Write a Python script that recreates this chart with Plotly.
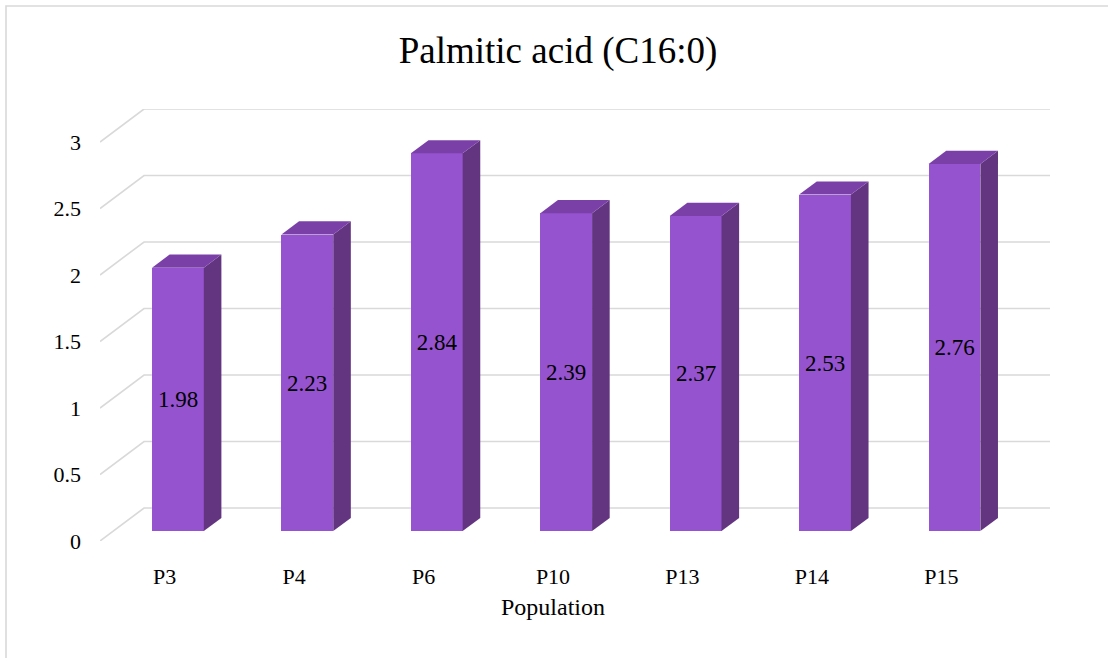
import plotly.graph_objects as go

# Palmitic acid content per population
populations = ["P3", "P4", "P6", "P10", "P13", "P14", "P15"]
palmitic = [1.98, 2.23, 2.84, 2.39, 2.37, 2.53, 2.76]
y_ticks = [0, 0.5, 1, 1.5, 2, 2.5, 3]

# Oblique "3-D" projection: full floor depth expressed in axis units
DEPTH_X = 0.34     # category units
DEPTH_Y = 0.248    # value units
BAR_W = 0.4        # bar width in category units
D_FRONT, D_BACK = 0.3, 0.7   # bar sits between these fractions of the depth

FRONT = "#9553CF"
TOP = "#7A40A8"
SIDE = "#633580"
GRID = "#D9D9D9"
FONT = "Liberation Serif, Times New Roman, serif"

fig = go.Figure()
n_cat = len(populations)

# Gridlines: short diagonal on the left wall, then horizontal along the back wall
shapes = []
for v in y_ticks:
    path = (f"M {-0.5},{v} L {-0.5 + DEPTH_X},{v + DEPTH_Y} "
            f"L {n_cat - 0.5 + DEPTH_X},{v + DEPTH_Y}")
    shapes.append(dict(type="path", path=path, xref="x", yref="y",
                       line=dict(color=GRID, width=1.6), layer="below"))

# Outer chart border
shapes.append(dict(type="rect", xref="paper", yref="paper",
                   x0=(6 - 100) / 950, x1=(1115 - 100) / 950,
                   y0=(541 - 670) / 432, y1=(541 - 6) / 432,
                   line=dict(color=GRID, width=1.6), fillcolor="rgba(0,0,0,0)",
                   layer="below"))

# Offsets of the bar's front face and its depth
fx = D_FRONT * DEPTH_X
fy = D_FRONT * DEPTH_Y
ddx = (D_BACK - D_FRONT) * DEPTH_X
ddy = (D_BACK - D_FRONT) * DEPTH_Y

for i, v in enumerate(palmitic):
    xl = i - BAR_W / 2 + fx
    xr = i + BAR_W / 2 + fx
    base = fy
    top = fy + v
    # side face
    fig.add_trace(go.Scatter(
        x=[xr, xr + ddx, xr + ddx, xr, xr],
        y=[base, base + ddy, top + ddy, top, base],
        mode="lines", fill="toself", fillcolor=SIDE,
        line=dict(width=0, color=SIDE), hoverinfo="skip", showlegend=False))
    # top face
    fig.add_trace(go.Scatter(
        x=[xl, xr, xr + ddx, xl + ddx, xl],
        y=[top, top, top + ddy, top + ddy, top],
        mode="lines", fill="toself", fillcolor=TOP,
        line=dict(width=0, color=TOP), hoverinfo="skip", showlegend=False))

# Front faces with value labels
fig.add_trace(go.Bar(
    x=[i + fx for i in range(n_cat)],
    y=palmitic,
    base=fy,
    width=BAR_W,
    marker=dict(color=FRONT, line=dict(width=0)),
    text=[f"{v:.2f}" for v in palmitic],
    textposition="inside",
    insidetextanchor="middle",
    textangle=0,
    textfont=dict(family=FONT, size=23, color="black"),
    constraintext="none",
    showlegend=False,
))

fig.update_layout(
    width=1108, height=658,
    margin=dict(l=100, r=58, t=109, b=117),
    paper_bgcolor="white", plot_bgcolor="white",
    font=dict(family=FONT, color="black"),
    title=dict(text="Palmitic acid (C16:0)", x=(558 - 100) / 950, xref="paper",
               xanchor="center", y=1 - 50 / 658, yanchor="middle",
               font=dict(family=FONT, size=37, color="black")),
    xaxis=dict(range=[-0.5, n_cat - 0.5 + DEPTH_X], tickvals=list(range(n_cat)),
               ticktext=populations, showgrid=False, zeroline=False,
               showline=False, ticks="", ticklabelstandoff=20,
               tickfont=dict(family=FONT, size=22, color="black"),
               fixedrange=True),
    yaxis=dict(range=[0, 3 + DEPTH_Y], tickvals=y_ticks,
               ticktext=[f"{t:g}" for t in y_ticks], showgrid=False,
               zeroline=False, showline=False, ticks="",
               ticklabelstandoff=18,
               tickfont=dict(family=FONT, size=22, color="black"),
               fixedrange=True),
    bargap=0,
    annotations=[dict(text="Population", x=3, xref="x", y=-66 / 432, yref="paper",
                      xanchor="center", yanchor="middle", showarrow=False,
                      font=dict(family=FONT, size=24, color="black"))],
    shapes=shapes,
)

fig.write_html("out.html")
